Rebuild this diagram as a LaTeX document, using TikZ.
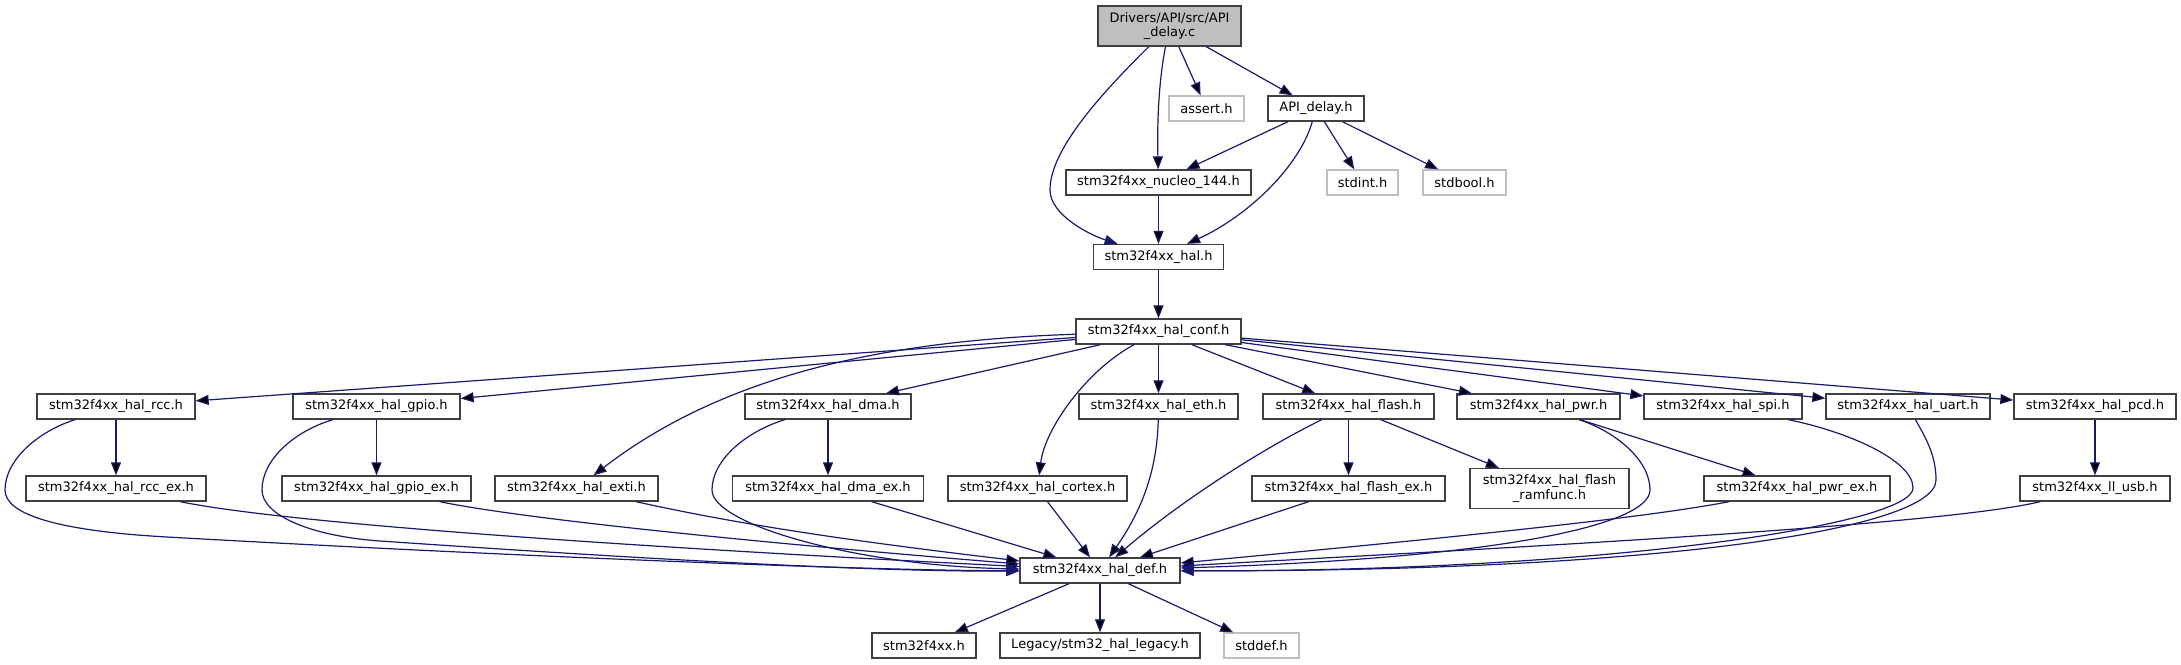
\documentclass[tikz,border=0pt]{standalone}
\usepackage{fontspec}
\setmainfont{DejaVu Sans}
\usetikzlibrary{positioning, arrows.meta}
\definecolor{midnight}{HTML}{191970}
\definecolor{grey25}{HTML}{404040}
\definecolor{grey75}{HTML}{BFBFBF}

\begin{document}
\begin{tikzpicture}[x=1pt, y=-1pt, on grid,
    font=\fontsize{13}{14.5}\selectfont,
    hdr/.style={draw=grey25, line width=1.3pt, fill=white, minimum width=#1,
                minimum height=25pt, inner xsep=0pt, inner ysep=0pt},
    sysh/.style={hdr=#1, draw=grey75},
    mainfile/.style={hdr=143pt, fill=grey75, minimum height=40pt, align=center},
    dep/.style={draw=midnight, line width=1.2pt, -{Triangle[length=13pt,width=10pt]}},
    via/.style 2 args={to path={.. controls #1 and #2 .. (\tikztotarget)}}]
    \useasboundingbox (0,0) rectangle (2181,664);

    \node[mainfile]    (src)     at (1169.5,26) {Drivers/API/src/API\\\_delay.c};
    \node[sysh=75pt]   (assert)  [below right=82.5pt and 37pt of src] {assert.h};
    \node[hdr=96pt]    (apid)    [right=109.5pt of assert] {API\_delay.h};
    \node[hdr=185pt]   (nucleo)  [below left=74pt and 157.5pt of apid] {stm32f4xx\_nucleo\_144.h};
    \node[sysh=71pt]   (stdint)  [below right=74pt and 46.5pt of apid] {stdint.h};
    \node[sysh=83pt]   (stdbool) [right=102pt of stdint] {stdbool.h};
    \node[hdr=130pt]   (hal)     [below=74.5pt of nucleo] {stm32f4xx\_hal.h};
    \node[hdr=165pt]   (conf)    [below=74.5pt of hal] {stm32f4xx\_hal\_conf.h};

    % modules included by the conf header
    \node[hdr=159pt]   (eth)     [below=75pt of conf] {stm32f4xx\_hal\_eth.h};
    \node[hdr=166pt]   (dma)     [left=330.5pt of eth] {stm32f4xx\_hal\_dma.h};
    \node[hdr=167pt]   (gpio)    [left=451.5pt of dma] {stm32f4xx\_hal\_gpio.h};
    \node[hdr=158pt]   (rcc)     [left=260.5pt of gpio] {stm32f4xx\_hal\_rcc.h};
    \node[hdr=171pt]   (flash)   [right=190pt of eth] {stm32f4xx\_hal\_flash.h};
    \node[hdr=163pt]   (pwr)     [right=190pt of flash] {stm32f4xx\_hal\_pwr.h};
    \node[hdr=158pt]   (spi)     [right=184.5pt of pwr] {stm32f4xx\_hal\_spi.h};
    \node[hdr=164pt]   (uart)    [right=185pt of spi] {stm32f4xx\_hal\_uart.h};
    \node[hdr=162pt]   (pcd)     [right=187pt of uart] {stm32f4xx\_hal\_pcd.h};

    \node[hdr=180pt]   (rccex)   [below=82pt of rcc] {stm32f4xx\_hal\_rcc\_ex.h};
    \node[hdr=189pt]   (gpioex)  [below=82pt of gpio] {stm32f4xx\_hal\_gpio\_ex.h};
    \node[hdr=163pt]   (exti)    [right=200pt of gpioex] {stm32f4xx\_hal\_exti.h};
    \node[hdr=191pt]   (dmaex)   [below=82pt of dma] {stm32f4xx\_hal\_dma\_ex.h};
    \node[hdr=179pt]   (cortex)  [right=209.5pt of dmaex] {stm32f4xx\_hal\_cortex.h};
    \node[hdr=193pt]   (flashex) [below=82pt of flash] {stm32f4xx\_hal\_flash\_ex.h};
    \node[hdr=159pt, minimum height=40pt, align=center]
                       (ramfunc) [right=201pt of flashex] {stm32f4xx\_hal\_flash\\\_ramfunc.h};
    \node[hdr=186pt]   (pwrex)   [right=247.5pt of ramfunc] {stm32f4xx\_hal\_pwr\_ex.h};
    \node[hdr=150pt]   (llusb)   [below=82pt of pcd] {stm32f4xx\_ll\_usb.h};

    \node[hdr=160pt]   (def)     [below left=164pt and 58.5pt of eth] {stm32f4xx\_hal\_def.h};
    \node[hdr=200pt]   (legacy)  [below=75pt of def] {Legacy/stm32\_hal\_legacy.h};
    \node[hdr=104pt]   (f4xx)    [left=176pt of legacy] {stm32f4xx.h};
    \node[sysh=75pt]   (stddef)  [right=161.5pt of legacy] {stddef.h};

    \path[dep]
        (src) edge[via={(1159,80)}{(1157,120)}] (nucleo)
              edge (assert)
              edge (apid)
        (apid) edge (nucleo)
               edge[via={(1300,165)}{(1250,215)}] (hal)
               edge (stdint)
               edge (stdbool)
        (nucleo) edge (hal)
        (hal) edge (conf)
        (conf) edge (rcc)
               edge (gpio)
               edge[via={(900,340)}{(730,370)}] (exti)
               edge (dma)
               edge[via={(1087,370)}{(1045,428)}] (cortex)
               edge (eth)
               edge (flash)
               edge (pwr)
               edge (spi)
               edge (uart)
               edge (pcd)
        (rcc) edge (rccex)
        (gpio) edge (gpioex)
        (dma) edge (dmaex)
        (eth) edge[via={(1157,480)}{(1135,520)}] (def)
        (flash) edge (flashex)
                edge (ramfunc)
                edge[via={(1250,455)}{(1170,510)}] (def)
        (pwr) edge (pwrex)
        (pcd) edge (llusb)
        (rccex) edge[via={(299,526)}{(700,550.5)}] (def)
        (gpioex) edge[via={(528,520)}{(780,544.5)}] (def)
        (exti) edge[via={(746,526)}{(860,542)}] (def)
        (dmaex) edge (def)
        (cortex) edge (def)
        (flashex) edge (def)
        (pwrex) edge[via={(1637,519.5)}{(1420,540.5)}] (def)
        (llusb) edge[via={(1939,526)}{(1500,548)}] (def)
        (def) edge (f4xx)
              edge (legacy)
              edge (stddef);

    % long bends round the second row
    \draw[dep] (src) .. controls (1100,95) and (1050,150) .. (1050,190)
                     .. controls (1050,215) and (1090,235) .. (hal);
    \draw[dep] (rcc) .. controls (38,431.5) and (5,460) .. (5,490)
                     .. controls (5,515) and (60,531) .. (167,537)
                     .. controls (450,553) and (860,571) .. (def);
    \draw[dep] (gpio) .. controls (293.5,431.5) and (262,460) .. (262,490)
                      .. controls (262,515) and (310,536) .. (380,541)
                      .. controls (600,556) and (860,572) .. (def);
    \draw[dep] (dma) .. controls (746,431.5) and (712,460) .. (712,490)
                     .. controls (712,525) and (860,566) .. (def);
    \draw[dep] (pwr) .. controls (1615.5,431.5) and (1650,460) .. (1650,490)
                     .. controls (1650,525) and (1500,558) .. (def);
    \draw[dep] (spi) .. controls (1847,431.5) and (1913,460) .. (1913,488)
                     .. controls (1913,525) and (1600,572) .. (def);
    \draw[dep] (uart) .. controls (1925.5,437.5) and (1936,455) .. (1936,480)
                      .. controls (1936,530) and (1650,572) .. (def);
\end{tikzpicture}
\end{document}
